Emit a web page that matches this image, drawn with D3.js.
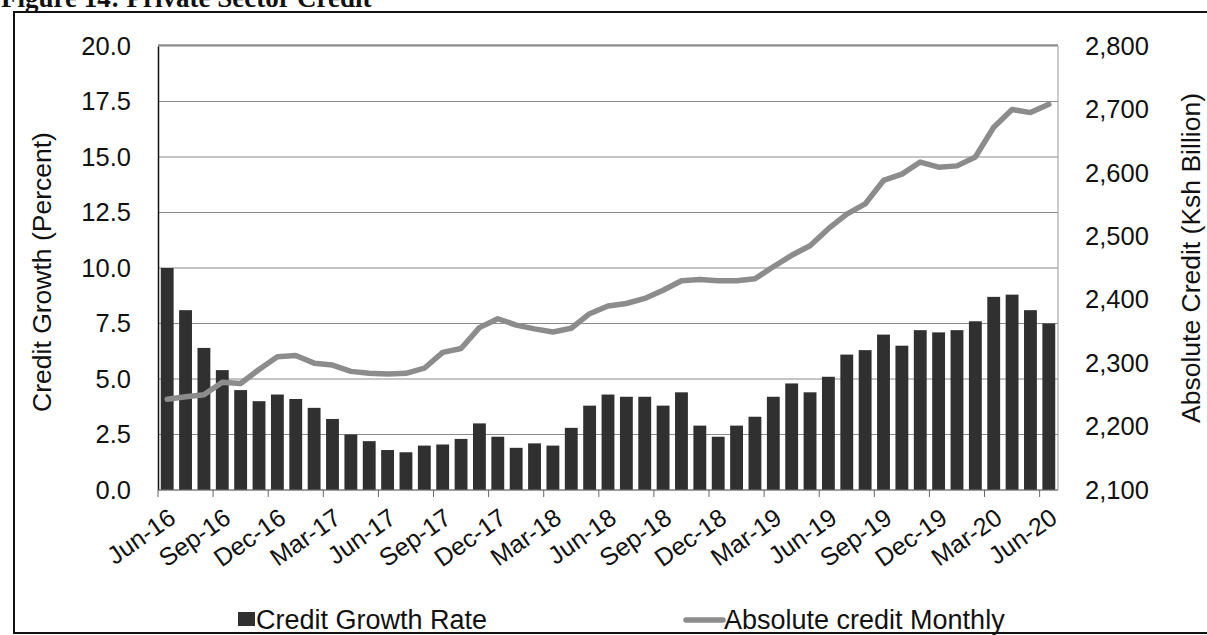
<!DOCTYPE html>
<html>
<head>
<meta charset="utf-8">
<script src="https://cdn.jsdelivr.net/npm/d3@7"></script>
<style>
  html, body { margin: 0; padding: 0; background: #fff; }
  svg { display: block; }
  text { font-family: "Liberation Sans", Arial, sans-serif; fill: #111; }
</style>
</head>
<body>
<svg id="chart" width="1207" height="635"></svg>
<script>
const months = ["Jun-16","Jul-16","Aug-16","Sep-16","Oct-16","Nov-16","Dec-16","Jan-17","Feb-17","Mar-17","Apr-17","May-17",
  "Jun-17","Jul-17","Aug-17","Sep-17","Oct-17","Nov-17","Dec-17","Jan-18","Feb-18","Mar-18","Apr-18","May-18",
  "Jun-18","Jul-18","Aug-18","Sep-18","Oct-18","Nov-18","Dec-18","Jan-19","Feb-19","Mar-19","Apr-19","May-19",
  "Jun-19","Jul-19","Aug-19","Sep-19","Oct-19","Nov-19","Dec-19","Jan-20","Feb-20","Mar-20","Apr-20","May-20","Jun-20"];
const creditGrowth = [10.0,8.1,6.4,5.4,4.5,4.0,4.3,4.1,3.7,3.2,2.5,2.2,
  1.8,1.7,2.0,2.05,2.3,3.0,2.4,1.9,2.1,2.0,2.8,3.8,
  4.3,4.2,4.2,3.8,4.4,2.9,2.4,2.9,3.3,4.2,4.8,4.4,
  5.1,6.1,6.3,7.0,6.5,7.2,7.1,7.2,7.6,8.7,8.8,8.1,7.5];
const absoluteCredit = [2243,2247,2250,2270,2268,2290,2310,2312,2300,2297,2287,2284,
  2283,2284,2292,2317,2323,2356,2370,2360,2354,2349,2355,2378,
  2390,2394,2402,2415,2430,2432,2430,2430,2433,2452,2470,2485,
  2512,2535,2551,2588,2598,2617,2609,2611,2625,2672,2700,2695,2708];
const leftTicks = [0,2.5,5,7.5,10,12.5,15,17.5,20];
const rightTicks = [2100,2200,2300,2400,2500,2600,2700,2800];
const xTickLabels = ["Jun-16","Sep-16","Dec-16","Mar-17","Jun-17","Sep-17","Dec-17","Mar-18","Jun-18","Sep-18","Dec-18","Mar-19","Jun-19","Sep-19","Dec-19","Mar-20","Jun-20"];
const titleText = "Figure 14: Private Sector Credit";
const leftTitle = "Credit Growth (Percent)";
const rightTitle = "Absolute Credit (Ksh Billion)";
const legendLabels = ["Credit Growth Rate","Absolute credit Monthly"];

const svg = d3.select("#chart");
const L = 158, R = 1058, T = 46, B = 490;

// figure title (cut at top, as in the scan) and frame
svg.append("text").attr("x", 1).attr("y", 7)
  .style("font-family", "'Liberation Serif','Times New Roman',serif")
  .style("font-weight", "bold").style("font-size", "27px").text(titleText);
svg.append("rect").attr("x", 14).attr("y", 12).attr("width", 1200).attr("height", 621)
  .attr("fill", "none").attr("stroke", "#111").attr("stroke-width", 2);

const x = d3.scaleBand().domain(months).range([L, R]).paddingInner(0.3).paddingOuter(0.15);
const yL = d3.scaleLinear().domain([0, 20]).range([B, T]);
const yR = d3.scaleLinear().domain([2100, 2800]).range([B, T]);

// gridlines
svg.append("g").selectAll("line").data(leftTicks).join("line")
  .attr("x1", L).attr("x2", R).attr("y1", d => yL(d)).attr("y2", d => yL(d))
  .attr("stroke", "#8a8a8a").attr("stroke-width", 1);
// plot border
svg.append("line").attr("x1", R).attr("x2", R).attr("y1", T).attr("y2", B).attr("stroke", "#999").attr("stroke-width", 1);
svg.append("line").attr("x1", L).attr("x2", R).attr("y1", T - 1).attr("y2", T - 1).attr("stroke", "#555").attr("stroke-width", 1);

// bars
svg.append("g").selectAll("rect").data(creditGrowth).join("rect")
  .attr("x", (d, i) => x(months[i]))
  .attr("width", x.bandwidth())
  .attr("y", d => yL(d))
  .attr("height", d => B - yL(d))
  .attr("fill", "#303030");

// line
const line = d3.line().x((d, i) => x(months[i]) + x.bandwidth() / 2).y(d => yR(d));
svg.append("path").datum(absoluteCredit).attr("d", line)
  .attr("fill", "none").attr("stroke", "#8c8c8c").attr("stroke-width", 5.5)
  .attr("stroke-linejoin", "round").attr("stroke-linecap", "round");

// left axis
const axL = svg.append("g").attr("transform", `translate(${L},0)`)
  .call(d3.axisLeft(yL).tickValues(leftTicks).tickFormat(d3.format(".1f")).tickSize(0).tickPadding(27));
axL.select(".domain").attr("stroke", "#111").attr("stroke-width", 1.5);
axL.selectAll("text").style("font-size", "25.5px").attr("fill", "#111");

// right axis
const axR = svg.append("g").attr("transform", `translate(${R},0)`)
  .call(d3.axisRight(yR).tickValues(rightTicks).tickFormat(d3.format(",")).tickSize(0).tickPadding(27));
axR.select(".domain").remove();
axR.selectAll("text").style("font-size", "25.5px").attr("fill", "#111");

// bottom axis
const step = x.step();
const bandStart = i => L + (R - L - step * months.length) / 2 + i * step;
const tickIdx = months.map((m, i) => i).filter(i => i % 3 === 0);
svg.append("line").attr("x1", L).attr("x2", R).attr("y1", B).attr("y2", B).attr("stroke", "#777");
svg.append("g").selectAll("line").data(tickIdx).join("line")
  .attr("x1", i => bandStart(i)).attr("x2", i => bandStart(i))
  .attr("y1", B).attr("y2", B + 7).attr("stroke", "#666");
svg.append("g").selectAll("text").data(xTickLabels).join("text")
  .attr("transform", d => `translate(${x(d) + x.bandwidth() / 2},${B + 17}) rotate(-35)`)
  .attr("text-anchor", "end").attr("dy", "0.71em")
  .style("font-size", "25px").text(d => d);

// axis titles
svg.append("text").attr("transform", `translate(42,272) rotate(-90)`)
  .attr("text-anchor", "middle").attr("dy", "0.35em").style("font-size", "26.5px").text(leftTitle);
svg.append("text").attr("transform", `translate(1191,258) rotate(-90)`)
  .attr("text-anchor", "middle").attr("dy", "0.35em").style("font-size", "26.5px").text(rightTitle);

// legend
svg.append("rect").attr("x", 238).attr("y", 612).attr("width", 17).attr("height", 14).attr("fill", "#303030");
svg.append("text").attr("x", 256).attr("y", 629).style("font-size", "27px").text(legendLabels[0]);
svg.append("line").attr("x1", 686).attr("x2", 723).attr("y1", 620).attr("y2", 620)
  .attr("stroke", "#8c8c8c").attr("stroke-width", 5.5).attr("stroke-linecap", "round");
svg.append("text").attr("x", 724).attr("y", 629).style("font-size", "27px").text(legendLabels[1]);
</script>
</body>
</html>
